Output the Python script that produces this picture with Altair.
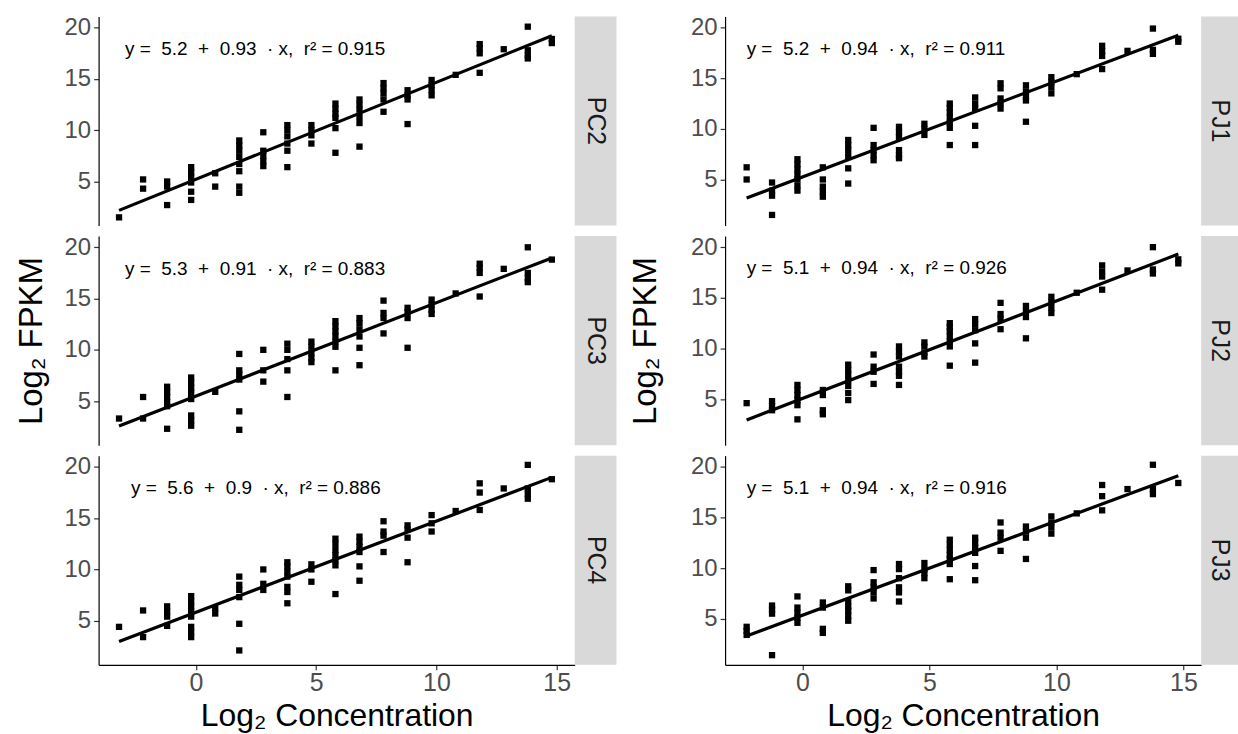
import altair as alt
import pandas as pd

FONT = "Liberation Sans"

# x levels (log2 concentration) for each column
X_LEFT = [-3.2, -2.2, -1.2, -0.2, 0.8, 1.8, 2.8, 3.8, 4.8, 5.8, 6.8, 7.8, 8.8, 9.8, 10.8, 11.8, 12.8, 13.8, 14.8]
X_RIGHT = [-2.2, -1.2, -0.2, 0.8, 1.8, 2.8, 3.8, 4.8, 5.8, 6.8, 7.8, 8.8, 9.8, 10.8, 11.8, 12.8, 13.8, 14.8]

# log2 FPKM values, one list per x level
PC2_Y = [[1.5], [5.2, 4.3], [5.0, 4.5, 2.7], [6.4, 5.9, 5.4, 4.9, 4.0, 3.2], [5.8, 4.5],
         [9.0, 8.5, 8.0, 7.4, 6.7, 6.0, 4.5, 3.9], [9.8, 8.0, 7.5, 7.0, 6.5],
         [10.5, 10.0, 9.4, 8.7, 8.0, 6.4], [10.5, 10.0, 9.5, 8.7],
         [12.6, 12.1, 11.6, 11.2, 10.2, 7.8], [13.0, 12.5, 12.0, 11.3, 10.7, 8.4],
         [14.6, 14.1, 13.6, 13.0, 11.8], [13.9, 13.4, 13.0, 10.6], [14.9, 14.4, 13.9, 13.4],
         [15.4], [18.4, 18.0, 17.5, 15.6], [17.9], [20.1, 17.8, 17.3, 17.0], [18.9, 18.5]]
PC3_Y = [[3.3], [5.4, 3.3], [6.4, 5.9, 5.4, 4.9, 4.5, 2.3], [7.3, 6.8, 6.3, 5.8, 5.2, 3.6, 3.1, 2.6],
         [5.9], [9.6, 8.0, 7.6, 7.1, 4.0, 2.2], [10.0, 8.0, 6.9], [10.6, 10.0, 9.1, 8.0, 5.4],
         [10.8, 10.3, 9.7, 9.2, 8.8], [12.8, 12.3, 11.8, 11.3, 10.8, 10.3, 8.0],
         [13.1, 12.6, 12.0, 11.3, 10.2, 8.5], [14.8, 13.6, 13.1, 11.6], [14.1, 13.7, 13.1, 10.2],
         [14.9, 14.4, 13.9, 13.5], [15.5], [18.4, 18.0, 17.5, 15.2], [17.9],
         [20.0, 17.5, 17.0, 16.6], [18.8]]
PC4_Y = [[4.4], [6.0, 3.4], [6.4, 5.9, 5.4, 4.5], [7.4, 6.9, 6.4, 5.9, 5.4, 4.4, 3.9, 3.4],
         [6.2, 5.7], [9.3, 8.5, 8.0, 7.3, 4.7, 2.1], [10.0, 8.6, 8.0],
         [10.7, 10.3, 9.8, 9.3, 8.3, 7.8, 6.7], [10.5, 10.0, 8.8],
         [13.0, 12.5, 11.9, 11.4, 10.9, 10.4, 7.6], [13.2, 12.7, 12.2, 11.7, 10.3, 8.9],
         [14.7, 13.7, 13.3, 11.7], [14.3, 13.9, 13.1, 10.7], [15.3, 14.5, 13.7], [15.7],
         [18.4, 17.5, 15.8], [17.9], [20.2, 17.9, 17.4, 16.9], [18.8]]
PJ1_Y = [[6.2, 5.0], [4.7, 3.9, 3.4, 1.5], [7.0, 6.5, 6.0, 5.5, 5.0, 4.4, 3.9],
         [6.2, 5.0, 4.3, 3.8, 3.3], [8.9, 8.4, 7.9, 7.3, 6.1, 4.6], [10.1, 8.4, 7.9, 7.4, 6.9],
         [10.2, 9.7, 9.2, 7.9, 7.4, 7.1], [10.5, 10.0, 9.4],
         [12.5, 12.1, 11.6, 11.1, 10.6, 10.1, 8.4], [13.1, 12.5, 12.0, 10.3, 8.4],
         [14.5, 14.0, 13.0, 12.5, 12.0], [14.3, 13.7, 13.2, 12.8, 10.7],
         [15.1, 14.6, 14.1, 13.5], [15.4], [18.2, 17.7, 17.2, 15.9], [17.7],
         [19.9, 17.8, 17.4], [18.9, 18.6]]
PJ2_Y = [[4.6], [4.8, 4.3, 3.9], [6.4, 5.9, 5.4, 4.9, 4.4, 3.0], [5.9, 5.4, 3.9, 3.5],
         [8.4, 7.9, 7.4, 6.9, 6.3, 5.6, 4.9], [9.4, 8.2, 7.7, 6.5],
         [10.2, 9.7, 9.2, 8.2, 7.7, 7.3, 6.4], [10.6, 10.2, 9.6, 9.2],
         [12.5, 12.1, 11.7, 11.2, 10.7, 10.2, 8.3], [12.9, 12.4, 11.8, 10.5, 8.6],
         [14.5, 13.4, 12.9, 11.9], [14.2, 13.7, 13.1, 11.0], [15.1, 14.6, 14.0, 13.5],
         [15.5], [18.2, 17.6, 17.1, 15.8], [17.7], [20.0, 17.8, 17.4], [18.8, 18.4]]
PJ3_Y = [[4.2, 3.8, 3.4], [6.3, 5.9, 5.5, 1.4], [7.2, 6.1, 5.6, 5.1, 4.6], [6.6, 6.1, 4.0, 3.6],
         [8.2, 7.8, 6.7, 6.2, 5.8, 5.3, 4.8], [9.8, 8.6, 8.1, 7.6, 7.0],
         [10.4, 9.9, 9.0, 8.1, 7.6, 6.7], [10.5, 9.9, 9.5, 9.0],
         [12.8, 12.3, 11.8, 11.3, 10.9, 10.4, 8.9], [13.0, 12.5, 12.0, 11.5, 10.2, 8.8],
         [14.5, 13.5, 13.0, 11.7], [14.1, 13.6, 13.0, 10.9], [15.1, 14.5, 14.0, 13.4],
         [15.4], [18.2, 17.1, 15.7], [17.8], [20.2, 17.8, 17.3], [18.4]]

LEFT_NAMES = ["PC2", "PC3", "PC4"]
RIGHT_NAMES = ["PJ1", "PJ2", "PJ3"]
SP = "\u00a0 "
LEFT_EQS = [f"y ={SP}5.2{SP}+{SP}0.93{SP}· x,{SP}r² = 0.915",
            f"y ={SP}5.3{SP}+{SP}0.91{SP}· x,{SP}r² = 0.883",
            f"y ={SP}5.6{SP}+{SP}0.9{SP}· x,{SP}r² = 0.886"]
RIGHT_EQS = [f"y ={SP}5.2{SP}+{SP}0.94{SP}· x,{SP}r² = 0.911",
             f"y ={SP}5.1{SP}+{SP}0.94{SP}· x,{SP}r² = 0.926",
             f"y ={SP}5.1{SP}+{SP}0.94{SP}· x,{SP}r² = 0.916"]
LEFT_EQ_X = [-2.95, -2.95, -2.7]
RIGHT_EQ_X = [-2.2, -2.2, -2.2]
EQ_Y = 17.9

H = 210


def panel(name, levels, groups, xdom, ydom, eq, eq_x, w, sw, show_x, show_ytitle, ytpad):
    df = pd.DataFrame([{"x": xv, "y": yv} for xv, ys in zip(levels, groups) for yv in ys])
    xs = alt.Scale(domain=xdom, nice=False, zero=False)
    ysc = alt.Scale(domain=ydom, nice=False, zero=False)
    if show_x:
        xenc = alt.X("x:Q", scale=xs, axis=alt.Axis(values=[0, 5, 10, 15], format="d"),
                     title="Log₂ Concentration")
    else:
        xenc = alt.X("x:Q", scale=xs, axis=None)
    if show_ytitle:
        yenc = alt.Y("y:Q", scale=ysc,
                     axis=alt.Axis(values=[5, 10, 15, 20], titlePadding=ytpad),
                     title="Log₂ FPKM")
    else:
        yenc = alt.Y("y:Q", scale=ysc, axis=alt.Axis(values=[5, 10, 15, 20]), title=None)

    strip_df = pd.DataFrame({"lab": [name]})
    strip = alt.Chart(strip_df).mark_rect(color="#D9D9D9").encode(
        x=alt.value(w), x2=alt.value(w + sw), y=alt.value(0), y2=alt.value(H))
    strip_txt = alt.Chart(strip_df).mark_text(
        angle=90, fontSize=25, font=FONT, color="#1A1A1A", align="center", baseline="middle"
    ).encode(x=alt.value(w + sw / 2), y=alt.value(H / 2), text="lab:N")

    pts = alt.Chart(df).mark_square(size=40, color="black", opacity=1).encode(x=xenc, y=yenc)
    line = alt.Chart(df).transform_regression("x", "y").mark_line(
        color="black", strokeWidth=3.2).encode(x="x:Q", y="y:Q")
    eq_df = pd.DataFrame({"x": [eq_x], "y": [EQ_Y], "t": [eq]})
    eqt = alt.Chart(eq_df).mark_text(
        align="left", baseline="middle", fontSize=19, font=FONT, color="black"
    ).encode(x="x:Q", y="y:Q", text="t:N")
    return alt.layer(pts, line, eqt, strip, strip_txt).properties(width=w, height=H)


left_groups = [PC2_Y, PC3_Y, PC4_Y]
right_groups = [PJ1_Y, PJ2_Y, PJ3_Y]

left_col = alt.vconcat(*[
    panel(LEFT_NAMES[i], X_LEFT, left_groups[i], [-4.05, 15.75], [0.7, 21.1],
          LEFT_EQS[i], LEFT_EQ_X[i], 478, 42, i == 2, i == 1, 16)
    for i in range(3)
], spacing=9.5)
right_col = alt.vconcat(*[
    panel(RIGHT_NAMES[i], X_RIGHT, right_groups[i], [-3.05, 15.7], [0.45, 21.1],
          RIGHT_EQS[i], RIGHT_EQ_X[i], 478, 37, i == 2, i == 1, 28)
    for i in range(3)
], spacing=9.5)

chart = alt.hconcat(left_col, right_col, spacing=13).configure_view(
    stroke=None
).configure_axis(
    grid=False, domainColor="black", domainWidth=1.2, tickColor="#333333", tickSize=5,
    tickWidth=1.2, labelColor="#4D4D4D", labelFont=FONT, labelFontSize=24, labelPadding=3,
    titleFont=FONT, titleFontSize=33, titleFontWeight="normal", titleColor="black",
    titlePadding=8
).configure_axisX(
    labelFontSize=25, labelPadding=1, titlePadding=5, titleFontSize=32
).properties(
    padding={"left": 15, "top": 14, "right": 0, "bottom": 0},
    background="white"
)

chart.save("out.html", embed_options={"renderer": "svg", "actions": False})
